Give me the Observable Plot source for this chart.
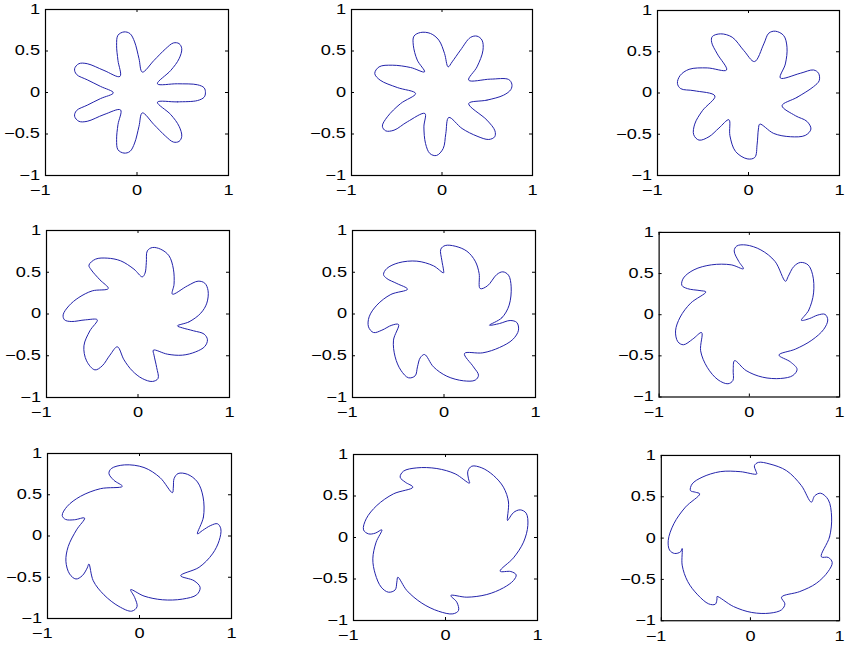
<!DOCTYPE html>
<html><head><meta charset="utf-8">
<script src="https://cdn.jsdelivr.net/npm/d3@7"></script>
<script src="https://cdn.jsdelivr.net/npm/@observablehq/plot@0.6"></script>
<style>
body{margin:0;background:#fff;}
#chart{position:relative;width:849px;height:646px;overflow:hidden;background:#fff;}
#chart > div{position:absolute;}
</style></head><body><div id="chart"></div>
<script>
const xTicks = [-1, 0, 1];
const yTicks = [-1, -0.5, 0, 0.5, 1];

const p1 = [[0.223,-0.117],[0.442,-0.113],[0.661,-0.097],[0.734,-0.056],[0.748,-0.004],[0.734,0.056],[0.661,0.093],[0.442,0.105],[0.223,0.105],
[0.369,0.266],[0.460,0.407],[0.489,0.528],[0.460,0.589],[0.398,0.597],[0.314,0.528],[0.186,0.387],[0.058,0.246],
[0.022,0.407],[-0.026,0.609],[-0.077,0.710],[-0.142,0.730],[-0.208,0.690],[-0.223,0.569],[-0.208,0.387],[-0.186,0.194],
[-0.361,0.266],[-0.544,0.347],[-0.635,0.347],[-0.682,0.286],[-0.661,0.218],[-0.544,0.153],[-0.398,0.073],[-0.259,-0.004],
[-0.398,-0.073],[-0.544,-0.153],[-0.661,-0.218],[-0.682,-0.286],[-0.635,-0.347],[-0.544,-0.347],[-0.361,-0.266],[-0.18,-0.21],
[-0.208,-0.387],[-0.223,-0.569],[-0.208,-0.690],[-0.142,-0.730],[-0.077,-0.710],[-0.026,-0.609],[0.022,-0.407],[0.058,-0.246],
[0.186,-0.387],[0.314,-0.528],[0.398,-0.597],[0.460,-0.589],[0.489,-0.528],[0.460,-0.407],[0.369,-0.266]];

const p2 = [[0.295,-0.133],[0.497,-0.092],[0.681,-0.032],[0.761,0.036],[0.772,0.100],[0.736,0.157],[0.534,0.161],[0.295,0.149],
[0.387,0.309],[0.453,0.510],[0.442,0.631],[0.387,0.679],[0.314,0.663],[0.204,0.510],[0.112,0.369],[0.068,0.309],
[0.028,0.470],[-0.035,0.631],[-0.127,0.711],[-0.237,0.723],[-0.310,0.679],[-0.317,0.570],[-0.273,0.390],[-0.193,0.249],
[-0.347,0.301],[-0.549,0.329],[-0.695,0.309],[-0.743,0.229],[-0.684,0.149],[-0.494,0.060],[-0.292,-0.012],
[-0.457,-0.133],[-0.604,-0.293],[-0.659,-0.406],[-0.622,-0.462],[-0.530,-0.454],[-0.383,-0.353],[-0.189,-0.253],
[-0.200,-0.414],[-0.182,-0.614],[-0.134,-0.735],[-0.061,-0.759],[0.013,-0.675],[0.042,-0.494],[0.075,-0.301],
[0.222,-0.434],[0.387,-0.526],[0.516,-0.566],[0.582,-0.534],[0.585,-0.462],[0.497,-0.333]];

const p3 = [[0.369,-0.154],[0.533,-0.053],[0.715,0.077],[0.777,0.150],[0.770,0.239],[0.715,0.279],[0.569,0.239],[0.350,0.182],
[0.405,0.352],[0.423,0.555],[0.387,0.696],[0.296,0.749],[0.223,0.725],[0.168,0.595],[0.066,0.381],
[-0.051,0.514],[-0.179,0.676],[-0.307,0.717],[-0.398,0.684],[-0.405,0.615],[-0.343,0.474],[-0.241,0.279],
[-0.453,0.304],[-0.653,0.287],[-0.752,0.211],[-0.781,0.117],[-0.745,0.053],[-0.599,0.028],[-0.369,-0.036],
[-0.507,-0.215],[-0.591,-0.377],[-0.602,-0.506],[-0.544,-0.571],[-0.434,-0.530],[-0.325,-0.425],[-0.215,-0.324],
[-0.204,-0.518],[-0.142,-0.709],[-0.015,-0.798],[0.069,-0.781],[0.095,-0.619],[0.109,-0.437],[0.124,-0.377],
[0.277,-0.490],[0.460,-0.530],[0.624,-0.514],[0.686,-0.437],[0.642,-0.344],[0.515,-0.275]];

const p4 = [[0.431,-0.142],[0.558,-0.094],[0.686,0.010],[0.752,0.130],[0.766,0.278],[0.730,0.369],[0.657,0.393],[0.540,0.337],[0.376,0.238],
[0.394,0.357],[0.387,0.537],[0.339,0.697],[0.248,0.776],[0.157,0.796],[0.102,0.756],[0.091,0.617],[0.077,0.489],[0.047,0.445],
[-0.044,0.537],[-0.190,0.637],[-0.336,0.669],[-0.464,0.657],[-0.536,0.585],[-0.511,0.529],[-0.416,0.409],[-0.325,0.305],
[-0.500,0.277],[-0.646,0.198],[-0.755,0.098],[-0.818,-0.010],[-0.803,-0.070],[-0.730,-0.090],[-0.573,-0.070],[-0.445,-0.070],
[-0.526,-0.202],[-0.591,-0.381],[-0.562,-0.561],[-0.471,-0.669],[-0.391,-0.621],[-0.307,-0.493],[-0.226,-0.393],
[-0.153,-0.549],[-0.062,-0.681],[0.047,-0.773],[0.157,-0.808],[0.219,-0.772],[0.204,-0.641],[0.175,-0.493],[0.168,-0.433],
[0.321,-0.481],[0.485,-0.493],[0.631,-0.453],[0.730,-0.389],[0.759,-0.309],[0.723,-0.241],[0.606,-0.201],[0.485,-0.166]];

const p5 = [[0.497,-0.134],[0.632,-0.046],[0.712,0.106],[0.734,0.325],[0.705,0.465],[0.643,0.505],[0.577,0.473],[0.475,0.337],[0.395,0.305],
[0.384,0.485],[0.341,0.633],[0.250,0.752],[0.122,0.812],[0.013,0.820],[-0.035,0.776],[-0.024,0.645],[-0.005,0.525],[-0.005,0.493],
[-0.115,0.577],[-0.297,0.633],[-0.497,0.613],[-0.625,0.545],[-0.661,0.473],[-0.625,0.425],[-0.515,0.365],[-0.399,0.297],
[-0.581,0.234],[-0.734,0.106],[-0.818,-0.034],[-0.825,-0.154],[-0.770,-0.222],[-0.679,-0.194],[-0.570,-0.134],[-0.497,-0.126],
[-0.552,-0.313],[-0.534,-0.513],[-0.472,-0.673],[-0.388,-0.764],[-0.315,-0.740],[-0.290,-0.633],[-0.260,-0.525],[-0.213,-0.485],
[-0.115,-0.633],[0.031,-0.745],[0.213,-0.800],[0.341,-0.792],[0.377,-0.733],[0.322,-0.633],[0.224,-0.473],
[0.424,-0.465],[0.607,-0.401],[0.752,-0.305],[0.814,-0.194],[0.796,-0.102],[0.723,-0.078],[0.607,-0.114]];

const p6 = [[0.577,-0.068],[0.657,0.052],[0.712,0.265],[0.701,0.486],[0.650,0.606],[0.566,0.635],[0.493,0.586],[0.431,0.466],[0.401,0.406],
[0.285,0.647],[0.128,0.787],[-0.036,0.847],[-0.139,0.835],[-0.168,0.775],[-0.117,0.647],[-0.066,0.558],
[-0.201,0.606],[-0.420,0.606],[-0.613,0.546],[-0.730,0.446],[-0.748,0.357],[-0.686,0.317],[-0.547,0.293],[-0.482,0.277],
[-0.650,0.141],[-0.766,-0.028],[-0.818,-0.197],[-0.792,-0.329],[-0.730,-0.365],[-0.628,-0.297],[-0.529,-0.217],
[-0.540,-0.438],[-0.467,-0.639],[-0.347,-0.791],[-0.237,-0.839],[-0.182,-0.799],[-0.179,-0.671],[-0.164,-0.558],
[-0.036,-0.679],[0.146,-0.759],[0.347,-0.775],[0.482,-0.739],[0.529,-0.663],[0.456,-0.574],[0.328,-0.490],
[0.511,-0.418],[0.693,-0.309],[0.825,-0.177],[0.869,-0.064],[0.839,0.004],[0.759,-0.004],[0.664,-0.048]];

const p7 = [[0.630,0.026],[0.695,0.229],[0.691,0.473],[0.630,0.655],[0.521,0.748],[0.419,0.757],[0.376,0.696],[0.368,0.594],[0.358,0.525],
[0.223,0.708],[0.049,0.830],[-0.162,0.862],[-0.307,0.817],[-0.332,0.757],[-0.278,0.675],[-0.187,0.602],
[-0.423,0.574],[-0.641,0.481],[-0.786,0.359],[-0.840,0.249],[-0.804,0.201],[-0.706,0.197],[-0.597,0.217],
[-0.684,0.075],[-0.775,-0.128],[-0.800,-0.306],[-0.760,-0.460],[-0.691,-0.521],[-0.622,-0.481],[-0.568,-0.387],[-0.550,-0.339],
[-0.503,-0.542],[-0.387,-0.712],[-0.223,-0.854],[-0.085,-0.911],[-0.027,-0.858],[-0.053,-0.744],[-0.096,-0.650],
[0.049,-0.728],[0.249,-0.773],[0.466,-0.765],[0.622,-0.712],[0.659,-0.623],[0.593,-0.542],[0.448,-0.481],
[0.648,-0.379],[0.793,-0.217],[0.866,-0.055],[0.884,0.087],[0.848,0.148],[0.775,0.128],[0.685,0.067]];

const p8 = [[0.674,0.205],[0.685,0.426],[0.630,0.606],[0.522,0.747],[0.395,0.839],[0.286,0.859],[0.243,0.799],[0.250,0.707],[0.261,0.655],
[0.105,0.767],[-0.094,0.831],[-0.312,0.839],[-0.457,0.799],[-0.493,0.727],[-0.438,0.667],[-0.355,0.606],
[-0.565,0.526],[-0.746,0.386],[-0.862,0.225],[-0.891,0.092],[-0.837,0.044],[-0.764,0.052],[-0.692,0.092],
[-0.754,-0.056],[-0.790,-0.257],[-0.764,-0.438],[-0.699,-0.598],[-0.620,-0.659],[-0.547,-0.631],[-0.529,-0.538],[-0.518,-0.478],
[-0.420,-0.639],[-0.257,-0.791],[-0.076,-0.888],[0.080,-0.920],[0.141,-0.880],[0.123,-0.779],[0.058,-0.699],
[0.232,-0.719],[0.449,-0.687],[0.630,-0.606],[0.739,-0.518],[0.768,-0.450],[0.710,-0.410],[0.594,-0.406],
[0.739,-0.245],[0.848,-0.056],[0.895,0.145],[0.877,0.293],[0.812,0.333],[0.739,0.301],[0.696,0.237]];

const p9 = [[0.796,-0.226],[0.888,0.014],[0.911,0.255],[0.874,0.463],[0.788,0.543],[0.721,0.511],[0.684,0.435],
[0.572,0.635],[0.405,0.816],[0.219,0.896],[0.089,0.916],[0.045,0.876],[0.063,0.808],[0.071,0.776],
[-0.115,0.804],[-0.338,0.804],[-0.543,0.736],[-0.654,0.655],[-0.673,0.575],[-0.617,0.555],[-0.569,0.535],
[-0.729,0.375],[-0.859,0.174],[-0.922,-0.026],[-0.907,-0.146],[-0.851,-0.186],[-0.784,-0.166],[-0.766,-0.126],
[-0.766,-0.327],[-0.703,-0.527],[-0.591,-0.687],[-0.468,-0.796],[-0.394,-0.800],[-0.375,-0.735],[-0.375,-0.707],
[-0.190,-0.828],[0.015,-0.900],[0.219,-0.908],[0.349,-0.868],[0.387,-0.796],[0.349,-0.715],
[0.554,-0.647],[0.740,-0.547],[0.870,-0.407],[0.918,-0.295],[0.874,-0.234]];

const curves = [p1, p2, p3, p4, p5, p6, p7, p8, p9];

// panel frame boxes (left, top, right, bottom) in page pixels
const frames = [
  [45, 9, 228, 175], [351, 9, 532, 175], [657, 10, 839, 175],
  [46, 230, 229, 397], [352, 230, 535, 397], [659, 232, 841, 398],
  [47, 453, 231, 618], [353, 454, 537, 620], [661, 455, 840, 621]
];

const fmt = d => d < 0 ? "\u2212" + Math.abs(d) : String(d);
const ml = 45, mt = 10, mr = 10, mb = 30, tk = 3;
const root = document.getElementById("chart");
frames.forEach(([L, T, R, B], i) => {
  const w = R - L, h = B - T;
  const svg = Plot.plot({
    width: w + ml + mr, height: h + mt + mb,
    marginLeft: ml, marginTop: mt, marginRight: mr, marginBottom: mb,
    x: {domain: [-1, 1]}, y: {domain: [-1, 1]},
    style: {fontFamily: "'Liberation Sans', Arial, Helvetica, sans-serif", fontSize: "14px", color: "black", background: "white", overflow: "visible"},
    marks: [
      Plot.line(curves[i], {x: d => d[0], y: d => d[1], curve: "catmull-rom-closed", stroke: "#2222aa", strokeWidth: 1}),
      Plot.tickX(xTicks, {x: d => d, insetTop: h - tk, stroke: "black"}),
      Plot.tickX(xTicks, {x: d => d, insetBottom: h - tk, stroke: "black"}),
      Plot.tickY(yTicks, {y: d => d, insetRight: w - tk, stroke: "black"}),
      Plot.tickY(yTicks, {y: d => d, insetLeft: w - tk, stroke: "black"}),
      Plot.frame({stroke: "black", strokeWidth: 1.2}),
      Plot.axisX(xTicks, {tickSize: 0, tickPadding: 10, fontSize: 14, tickFormat: fmt}),
      Plot.axisY(yTicks, {tickSize: 0, tickPadding: 5.5, fontSize: 14, tickFormat: fmt})
    ]
  });
  // MATLAB-like wide glyphs; negative x labels keep digits centred on the tick
  svg.querySelectorAll('g[aria-label="x-axis tick label"] text').forEach(t => {
    const tr = t.getAttribute("transform") || "";
    t.setAttribute("transform", tr + " scale(1.3,1)");
    if (t.textContent.startsWith("\u2212")) t.setAttribute("dx", "-4.1");
  });
  svg.querySelectorAll('g[aria-label="y-axis tick label"] text').forEach(t => {
    const tr = t.getAttribute("transform") || "";
    t.setAttribute("transform", tr + " scale(1.3,1)");
  });
  const holder = document.createElement("div");
  holder.style.left = (L - ml) + "px";
  holder.style.top = (T - mt) + "px";
  holder.appendChild(svg);
  root.appendChild(holder);
});
</script>
</body></html>
